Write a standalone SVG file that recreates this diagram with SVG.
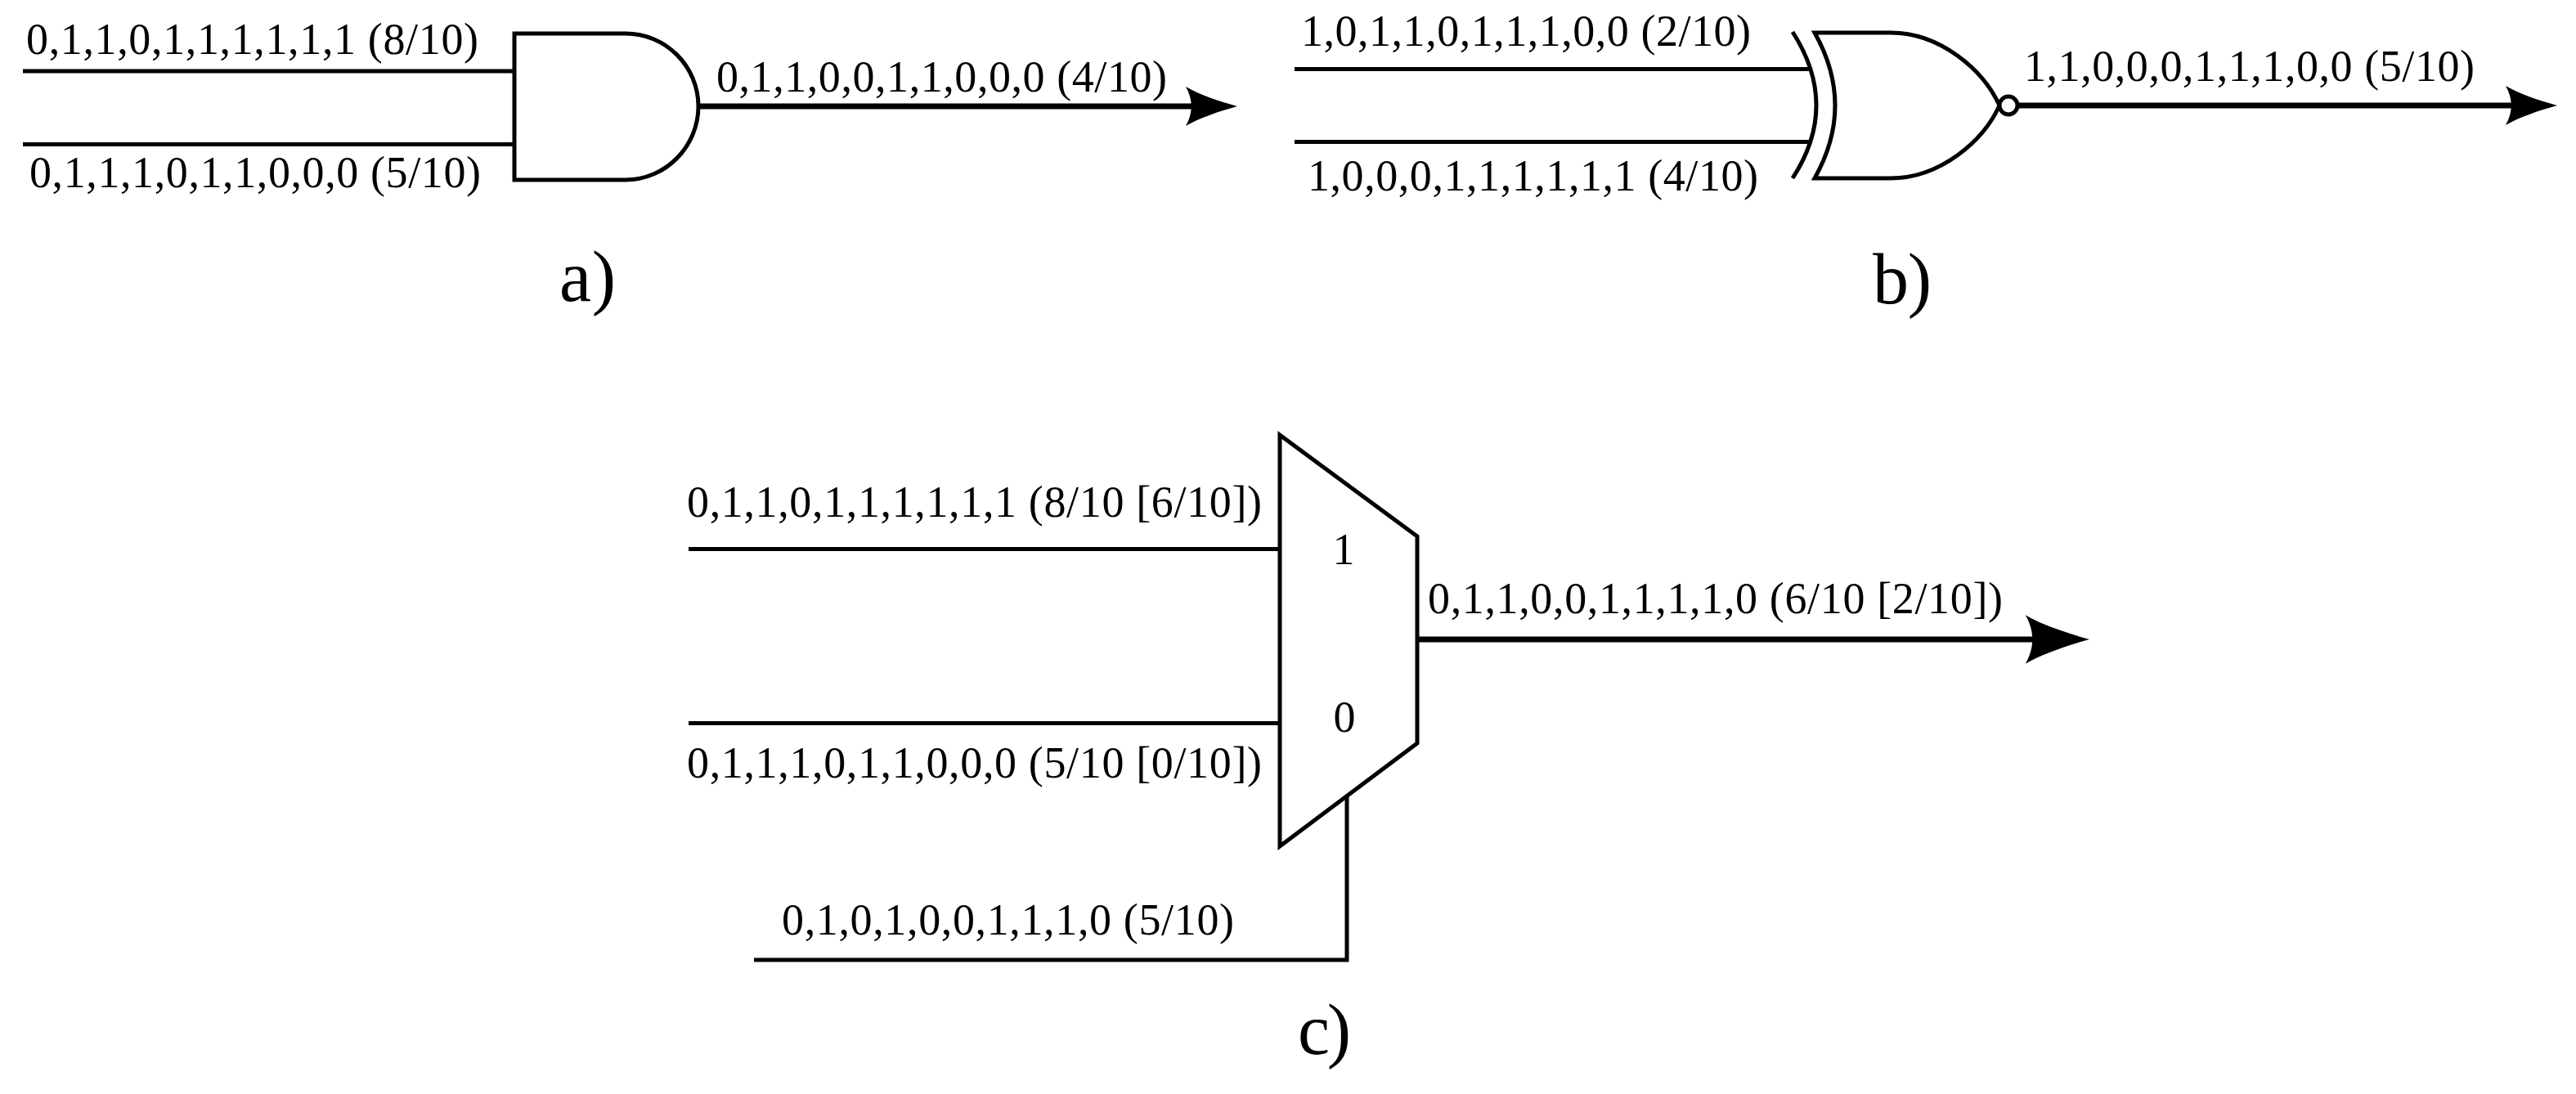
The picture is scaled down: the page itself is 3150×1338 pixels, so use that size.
<svg xmlns="http://www.w3.org/2000/svg" width="3150" height="1338" viewBox="0 0 3150 1338">
<defs>
<style>
text{font-family:"Liberation Serif","Times New Roman",serif;font-size:54px;fill:#000}
.cap{font-size:88px}
.w{fill:none;stroke:#000;stroke-width:5}
.o{fill:none;stroke:#000;stroke-width:7}
.g{fill:#fff;stroke:#000;stroke-width:5;stroke-linejoin:miter}
.n{fill:none;stroke:#000;stroke-width:5}
</style>
<path id="arrow" d="M0 0C-22 6-48 15-63 24C-54 8-54-8-63-24C-48-15-22-6 0 0Z" fill="#000"/>
</defs>
<rect width="3150" height="1338" fill="#fff"/>
<g id="connectors">
<path class="w" d="M28 87H630"/>
<path class="w" d="M28 176.500H630"/>
<path class="o" d="M854 130H1462"/>
<use href="#arrow" x="1513" y="130"/>
<path class="w" d="M1583 84.500H2212"/>
<path class="w" d="M1583 173.500H2212"/>
<path class="o" d="M2468 129H3075"/>
<use href="#arrow" x="3127" y="129"/>
<path class="w" d="M842 671.500H1565"/>
<path class="w" d="M842 884.500H1565"/>
<path class="o" d="M1734 782H2495"/>
<use href="#arrow" transform="translate(2555 782) scale(1.24)"/>
<path class="w" d="M1647 970V1174H922"/>
</g>
<g id="and-gate">
<path class="g" d="M629 41H765C814 41 854 81 854 130C854 179 814 220 765 220H629Z"/>
</g>
<g id="xnor-gate">
<path class="n" d="M2192 39Q2250 129 2192 218"/>
<path class="g" d="M2219 40H2312C2372 40 2425 85 2445 129C2425 173 2372 218 2312 218H2219Q2269 129 2219 40Z"/>
<ellipse class="g" cx="2456" cy="129" rx="11" ry="11"/>
</g>
<g id="mux">
<path class="g" d="M1565 532L1733 656V909L1565 1035Z"/>
<text x="1643" y="690" text-anchor="middle">1</text>
<text x="1644" y="895" text-anchor="middle">0</text>
</g>
<g id="labels">
<text x="32" y="66" textLength="553">0,1,1,0,1,1,1,1,1,1 (8/10)</text>
<text x="36" y="229" textLength="552">0,1,1,1,0,1,1,0,0,0 (5/10)</text>
<text x="876" y="112" textLength="551">0,1,1,0,0,1,1,0,0,0 (4/10)</text>
<text x="1591" y="56" textLength="550">1,0,1,1,0,1,1,1,0,0 (2/10)</text>
<text x="1599" y="233" textLength="551">1,0,0,0,1,1,1,1,1,1 (4/10)</text>
<text x="2475" y="99" textLength="551">1,1,0,0,0,1,1,1,0,0 (5/10)</text>
<text x="840" y="632" textLength="703">0,1,1,0,1,1,1,1,1,1 (8/10 [6/10])</text>
<text x="840" y="951" textLength="703">0,1,1,1,0,1,1,0,0,0 (5/10 [0/10])</text>
<text x="1746" y="750" textLength="703">0,1,1,0,0,1,1,1,1,0 (6/10 [2/10])</text>
<text x="956" y="1143" textLength="553">0,1,0,1,0,0,1,1,1,0 (5/10)</text>
<text class="cap" x="684" y="368" textLength="69">a)</text>
<text class="cap" x="2290" y="371" textLength="72">b)</text>
<text class="cap" x="1587" y="1289" textLength="65">c)</text>
</g>
</svg>
